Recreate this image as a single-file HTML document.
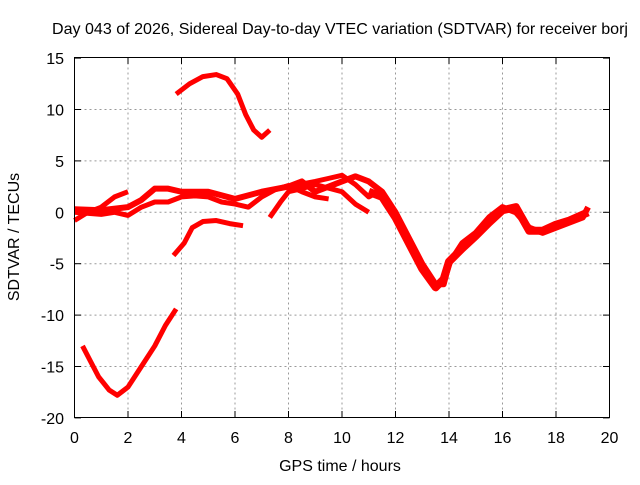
<!DOCTYPE html>
<html><head><meta charset="utf-8"><style>
body{margin:0;background:#fff;font-family:"Liberation Sans",sans-serif;}
svg text{font-family:"Liberation Sans",sans-serif;font-size:16px;fill:#000;}
</style></head><body>
<svg id="chart" width="640" height="480" xmlns="http://www.w3.org/2000/svg">
<rect width="640" height="480" fill="#fff"/>
<text x="340" y="34" text-anchor="middle" textLength="576" lengthAdjust="spacingAndGlyphs">Day 043 of 2026, Sidereal Day-to-day VTEC variation (SDTVAR) for receiver borj</text>
<text x="340" y="471" text-anchor="middle">GPS time / hours</text>
<text transform="translate(19,237) rotate(-90)" text-anchor="middle">SDTVAR / TECUs</text>
<g id="grid"></g><g id="series"></g>
<rect x="74.5" y="57.5" width="535" height="360" fill="none" stroke="#000" stroke-width="1"/>
</svg>
<script>
const xTicks=[0,2,4,6,8,10,12,14,16,18,20];
const yTicks=[-20,-15,-10,-5,0,5,10,15];
const arcSeries=[[3.8,11.5],[4.3,12.5],[4.8,13.2],[5.3,13.4],[5.7,13],[6.1,11.5],[6.4,9.5],[6.7,8],[7.0,7.3],[7.3,8]];
const lowSeries=[[0.3,-13],[0.6,-14.5],[0.9,-16],[1.3,-17.3],[1.6,-17.8],[2.0,-17],[2.5,-15],[3.0,-13],[3.4,-11],[3.8,-9.4]];
const midLowSeries=[[3.7,-4.2],[4.1,-3],[4.4,-1.5],[4.8,-0.9],[5.3,-0.8],[5.8,-1.1],[6.3,-1.3]];
const earlySeries=[[0,-0.8],[0.5,0],[1,0.5],[1.5,1.5],[2,2]];
const bandSeries=[[0,0],[1,-0.2],[1.5,0],[2,-0.3],[2.5,0.5],[3,1],[3.5,1],[4,1.5],[4.5,1.6],[5,1.5],[5.5,1],[6,0.8],[6.5,0.5],[7,1.5],[7.5,2.2],[8,2.6],[8.5,2],[9,1.5],[9.5,1.3]];
const mainSeries=[[0,0.3],[1,0.2],[2,0.5],[2.5,1.2],[3,2.3],[3.5,2.3],[4,2],[5,2],[6,1.3],[7,2],[8,2.5],[8.5,3],[9,2],[10,3],[10.5,3.5],[11,3],[11.5,2],[12,0],[12.5,-2.5],[13,-5],[13.5,-7],[13.8,-7],[14,-5],[14.5,-3],[15,-2],[15.5,-0.5],[16,0.5],[16.5,0],[17,-1.5],[17.5,-2],[18,-1.5],[18.5,-1],[19,-0.5],[19.2,0.5]];
const dipSeries=[[11,2],[11.5,1.5],[12,-0.5],[12.5,-3],[13,-5.5],[13.5,-7.3],[13.8,-6.5],[14,-4.8],[14.5,-3.5],[15,-2.3],[15.5,-1],[16,0.2],[16.5,0.5],[17,-1.8],[17.5,-1.8],[18,-1.2],[18.5,-0.8],[19.2,0]];
const upperSeries=[[8,2.5],[9,3],[9.5,3.3],[10,3.6],[10.5,2.7],[11,1.5],[11.5,2.2]];
const crossSeries=[[7.3,-0.5],[7.7,1.0],[8,2],[8.5,2.3],[9,2.7],[10,2],[10.5,0.8],[11,0]];
const allSeries=[arcSeries,lowSeries,midLowSeries,earlySeries,bandSeries,mainSeries,dipSeries,upperSeries,crossSeries];
const widths=[5,5,5,5,5,6,8,5,5];
const X=t=>74.5+t*26.75, Y=v=>212.3-v*10.28;
const NS="http://www.w3.org/2000/svg";
const svg=document.getElementById('chart'),grid=document.getElementById('grid'),ser=document.getElementById('series');
function mk(tag,attrs,parent){const e=document.createElementNS(NS,tag);for(const k in attrs)e.setAttribute(k,attrs[k]);parent.appendChild(e);return e;}
xTicks.forEach(t=>{
 if(t>0&&t<20){const g=mk('line',{x1:X(t),x2:X(t),y1:57.5,y2:417.5,stroke:'#999','stroke-dasharray':'2,3'},grid);
 
 }
 const l=mk('text',{x:X(t),y:443,'text-anchor':'middle'},svg);l.textContent=t;
 
 
 mk('line',{x1:X(t),x2:X(t),y1:417.5,y2:411,stroke:'#000'},grid);
 mk('line',{x1:X(t),x2:X(t),y1:57.5,y2:64,stroke:'#000'},grid);
});
yTicks.forEach(v=>{
 if(v>-20&&v<15){const g=mk('line',{x1:74.5,x2:609.5,y1:Y(v),y2:Y(v),stroke:'#999','stroke-dasharray':'2,3'},grid);
 
 }
 const l=mk('text',{x:64,y:Y(v)+6,'text-anchor':'end'},svg);l.textContent=v;
 
 
 mk('line',{x1:74.5,x2:81,y1:Y(v),y2:Y(v),stroke:'#000'},grid);
 mk('line',{x1:603,x2:609.5,y1:Y(v),y2:Y(v),stroke:'#000'},grid);
});
allSeries.forEach((s,i)=>{
 const p=mk('polyline',{points:s.map(d=>X(d[0])+','+Y(d[1])).join(' '),fill:'none',stroke:'#ff0000','stroke-width':widths[i],'stroke-linejoin':'round'},ser);
 
 
});
</script>
</body></html>
